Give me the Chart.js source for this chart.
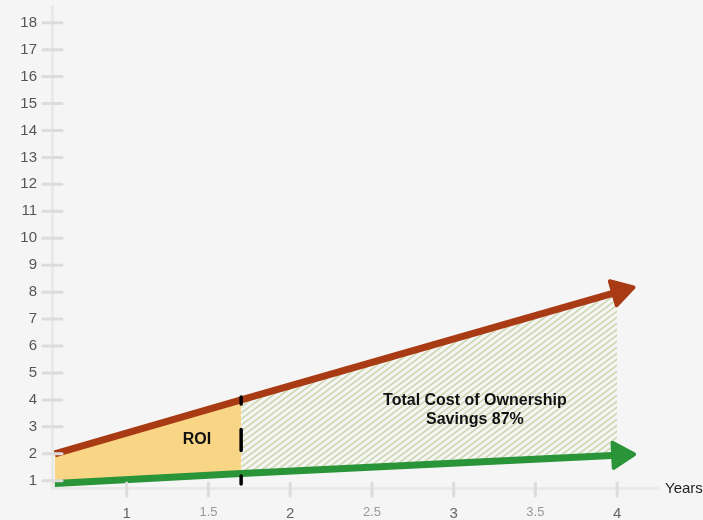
<!DOCTYPE html>
<html>
<head>
<meta charset="utf-8">
<script src="https://cdn.jsdelivr.net/npm/chart.js@4.4.0/dist/chart.umd.min.js"></script>
<style>
  html, body { margin: 0; padding: 0; background: #f5f5f5; }
  #wrap { position: relative; width: 703px; height: 520px; }
</style>
</head>
<body>
<div id="wrap"><canvas id="chart"></canvas></div>
<script>
// data
var years = [0.56, 1.7, 4];
var oldCost = [2, 4, 8];        // red line
var newCost = [0.9, 1.27, 1.95]; // green line
var roiYear = 1.7;
var roiMarkY = [4.11, 0.88];    // dashed marker, top -> bottom
var xTicks = [1, 1.5, 2, 2.5, 3, 3.5, 4];
var yTicks = [1, 2, 3, 4, 5, 6, 7, 8, 9, 10, 11, 12, 13, 14, 15, 16, 17, 18];
var noteText = ['ROI', 'Total Cost of Ownership', 'Savings 87%'];
var noteX = [1.43, 3.13, 3.13];
var noteY = [2.51, 3.99, 3.28];

var RED = '#a93b14';
var GREEN = '#2a9538';
var YELLOW = '#f9d586';
var FONT = '"Liberation Sans", Arial, Helvetica, sans-serif';

function pts(xs, ys) {
    return xs.map(function (x, i) { return { x: x, y: ys[i] }; });
}

// diagonal hatch for the savings area
function hatch() {
    var w = 8, h = 6;
    var c = document.createElement('canvas');
    c.width = w; c.height = h;
    var g = c.getContext('2d');
    g.strokeStyle = '#ccd7ae';
    g.lineWidth = 1.6;
    g.beginPath();
    [0, h, 2 * h].forEach(function (k) {
        g.moveTo(-2, k + 2 * h / w);
        g.lineTo(w + 2, k - (w + 2) * h / w);
    });
    g.stroke();
    return g.createPattern(c, 'repeat');
}

var arrowHeads = {
    id: 'arrowHeads',
    afterDatasetsDraw: function (chart) {
        var ctx = chart.ctx;
        chart.data.datasets.forEach(function (ds, i) {
            if (!ds.arrow) return;
            var p = chart.getDatasetMeta(i).data;
            var a = p[p.length - 2], b = p[p.length - 1];
            var dx = b.x - a.x, dy = b.y - a.y;
            var len = Math.sqrt(dx * dx + dy * dy);
            var ux = dx / len, uy = dy / len;
            var tip = 17, back = 4, half = 12.5;
            ctx.save();
            ctx.fillStyle = ds.borderColor;
            ctx.strokeStyle = ds.borderColor;
            ctx.lineWidth = 4;
            ctx.lineJoin = 'round';
            ctx.beginPath();
            ctx.moveTo(b.x + ux * tip, b.y + uy * tip);
            ctx.lineTo(b.x - ux * back - uy * half, b.y - uy * back + ux * half);
            ctx.lineTo(b.x - ux * back + uy * half, b.y - uy * back - ux * half);
            ctx.closePath();
            ctx.fill();
            ctx.stroke();
            ctx.restore();
        });
    }
};

var tickMarks = {
    id: 'tickMarks',
    afterDatasetsDraw: function (chart) {
        var ctx = chart.ctx;
        var xs = chart.scales.x, ys = chart.scales.y;
        var area = chart.chartArea;
        ctx.save();
        ctx.strokeStyle = '#dcdcdc';
        ctx.lineWidth = 3;
        ctx.lineCap = 'round';
        ys.ticks.forEach(function (t) {
            var y = ys.getPixelForValue(t.value);
            ctx.beginPath();
            ctx.moveTo(area.left - 9, y);
            ctx.lineTo(area.left + 10, y);
            ctx.stroke();
        });
        xs.ticks.forEach(function (t) {
            var x = xs.getPixelForValue(t.value);
            ctx.beginPath();
            ctx.moveTo(x, area.bottom - 5);
            ctx.lineTo(x, area.bottom + 8);
            ctx.stroke();
        });
        ctx.restore();
    }
};

var notes = {
    id: 'notes',
    afterDraw: function (chart) {
        var ctx = chart.ctx;
        var xs = chart.scales.x, ys = chart.scales.y;
        ctx.save();
        ctx.textAlign = 'center';
        ctx.textBaseline = 'middle';
        ctx.fillStyle = '#111';
        ctx.font = 'bold 16px ' + FONT;
        noteText.forEach(function (t, i) {
            ctx.fillText(t, xs.getPixelForValue(noteX[i]), ys.getPixelForValue(noteY[i]));
        });
        ctx.font = '15px ' + FONT;
        ctx.fillStyle = '#222';
        ctx.textAlign = 'left';
        ctx.fillText('Years', chart.chartArea.right + 7, chart.chartArea.bottom + 1);
        ctx.restore();
    }
};

var chart = new Chart('chart', {
    type: 'line',
    data: {
        datasets: [
            {   // ROI fill top
                data: pts(years.slice(0, 2), oldCost.slice(0, 2)),
                borderWidth: 0, pointRadius: 0,
                backgroundColor: YELLOW,
                fill: 1,
                order: 5
            },
            {   // ROI fill bottom
                data: pts(years.slice(0, 2), newCost.slice(0, 2)),
                borderWidth: 0, pointRadius: 0,
                fill: false,
                order: 5
            },
            {   // savings fill top
                data: pts(years.slice(1), oldCost.slice(1)),
                borderWidth: 0, pointRadius: 0,
                backgroundColor: hatch(),
                fill: 3,
                order: 5
            },
            {   // savings fill bottom
                data: pts(years.slice(1), newCost.slice(1)),
                borderWidth: 0, pointRadius: 0,
                fill: false,
                order: 5
            },
            {
                data: pts(years, oldCost),
                borderColor: RED, borderWidth: 7, pointRadius: 0,
                fill: false, arrow: true,
                order: 2
            },
            {
                data: pts(years, newCost),
                borderColor: GREEN, borderWidth: 7, pointRadius: 0,
                fill: false, arrow: true,
                order: 2
            },
            {
                data: pts([roiYear, roiYear], roiMarkY),
                borderColor: '#000', borderWidth: 3.5, pointRadius: 0,
                borderDash: [21, 25.5], borderDashOffset: 14,
                borderCapStyle: 'round',
                fill: false,
                order: 1
            }
        ]
    },
    options: {
        responsive: true,
        maintainAspectRatio: false,
        animation: false,
        events: [],
        layout: { padding: { top: 6, right: 45, left: 0, bottom: 0 } },
        plugins: {
            legend: { display: false },
            tooltip: { enabled: false }
        },
        scales: {
            x: {
                type: 'linear',
                min: 0.543, max: 4.25,
                afterBuildTicks: function (s) {
                    s.ticks = xTicks.map(function (v) { return { value: v }; });
                },
                afterFit: function (s) {
                    s.height = 32;
                    s.paddingLeft = 0; s.paddingRight = 0;
                },
                grid: { drawOnChartArea: false, drawTicks: false },
                border: { color: '#e9e9e9', width: 3 },
                ticks: {
                    padding: 17,
                    maxRotation: 0,
                    autoSkip: false,
                    font: function (c) {
                        return c.tick && c.tick.value % 1 === 0
                            ? { family: FONT, size: 15 } : { family: FONT, size: 13 };
                    },
                    color: function (c) {
                        return c.tick && c.tick.value % 1 === 0 ? '#666' : '#999';
                    },
                    callback: function (v) { return String(v); }
                }
            },
            y: {
                type: 'linear',
                min: 0.73, max: 18.62,
                afterBuildTicks: function (s) {
                    s.ticks = yTicks.map(function (v) { return { value: v }; });
                },
                afterFit: function (s) {
                    s.width = 52;
                    s.paddingTop = 0; s.paddingBottom = 0;
                },
                grid: { drawOnChartArea: false, drawTicks: false },
                border: { color: '#e9e9e9', width: 3 },
                ticks: {
                    padding: 15,
                    font: { family: FONT, size: 15 },
                    color: '#555',
                    callback: function (v) { return String(v); }
                }
            }
        }
    },
    plugins: [tickMarks, arrowHeads, notes]
});
</script>
</body>
</html>
